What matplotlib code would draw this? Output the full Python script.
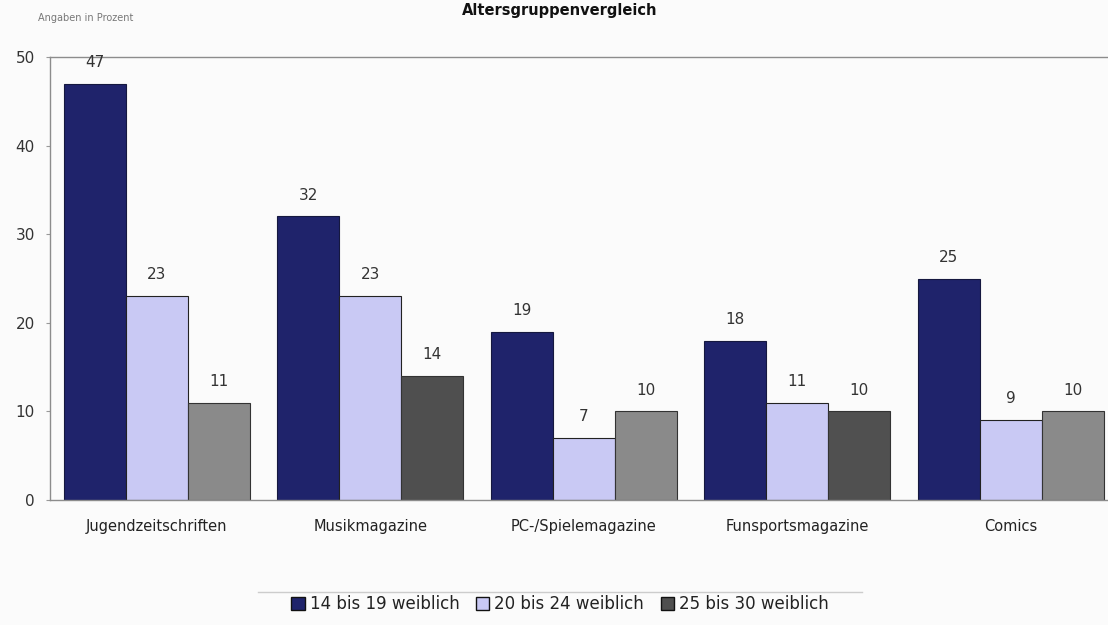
import matplotlib
matplotlib.use("Agg")
import matplotlib.pyplot as plt
from matplotlib.patches import Patch
import numpy as np

categories = ["Jugendzeitschriften", "Musikmagazine", "PC-/Spielemagazine",
              "Funsportsmagazine", "Comics"]
series_names = ["14 bis 19 weiblich", "20 bis 24 weiblich", "25 bis 30 weiblich"]
age_14_19 = [47, 32, 19, 18, 25]
age_20_24 = [23, 23, 7, 11, 9]
age_25_30 = [11, 14, 10, 10, 10]
y_ticks = [0, 10, 20, 30, 40, 50]

navy = "#1f236b"
lavender = "#c9c9f4"
third_colors = ["#8a8a8a", "#4f4f4f", "#8a8a8a", "#505050", "#8a8a8a"]

fig = plt.figure(figsize=(11.08, 6.25), dpi=100)
fig.patch.set_facecolor("#fbfbfb")
ax = fig.add_axes([50 / 1108, 1 - 500 / 625, 1 - 50 / 1108 + 0.001, 443 / 625])
ax.set_facecolor("#fbfbfb")

x = np.arange(len(categories))
w = 0.29
ax.bar(x - w, age_14_19, w, color=navy, edgecolor="#15183f", linewidth=0.8)
ax.bar(x, age_20_24, w, color=lavender, edgecolor="#222222", linewidth=0.8)
ax.bar(x + w, age_25_30, w, color=third_colors, edgecolor="#333333", linewidth=0.8)

for off, vals in ((-w, age_14_19), (0, age_20_24), (w, age_25_30)):
    for xi, v in zip(x, vals):
        ax.text(xi + off, v + 2.4, str(v), ha="center", va="center",
                fontsize=11, color="#333333")

ax.set_xlim(-0.5, 4.46)
ax.set_ylim(0, 50)
ax.set_yticks(y_ticks)
ax.set_yticklabels([str(t) for t in y_ticks], fontsize=11, color="#333333")
ax.tick_params(axis="y", length=3, color="#999999", pad=8)
ax.set_xticks(x)
ax.set_xticklabels(categories, fontsize=10.5, color="#222222")
ax.tick_params(axis="x", length=0, pad=14)
for side in ("left", "top", "bottom"):
    ax.spines[side].set_color("#8c8c8c")
    ax.spines[side].set_linewidth(1.0)
ax.spines["right"].set_visible(False)

fig.text(560 / 1108, 1 - 10 / 625, "Altersgruppenvergleich", ha="center",
         va="center", fontsize=10.5, fontweight="bold", color="#111111")
fig.text(38 / 1108, 1 - 18 / 625, "Angaben in Prozent", ha="left",
         va="center", fontsize=7, color="#777777")

handles = [Patch(facecolor=navy, edgecolor="#111111"),
           Patch(facecolor=lavender, edgecolor="#111111"),
           Patch(facecolor="#4f4f4f", edgecolor="#111111")]
leg = fig.legend(handles, series_names, loc="center", ncol=3,
                 bbox_to_anchor=(560 / 1108, 1 - 604 / 625), fontsize=12,
                 frameon=False, handlelength=0.8, handleheight=0.8,
                 handletextpad=0.3, columnspacing=1.0)
for t in leg.get_texts():
    t.set_color("#222222")
fig.add_artist(plt.Line2D([258 / 1108, 862 / 1108], [1 - 592 / 625] * 2,
                          color="#cccccc", linewidth=1.0,
                          transform=fig.transFigure))

fig.savefig("out.png", dpi=100, facecolor=fig.get_facecolor())
